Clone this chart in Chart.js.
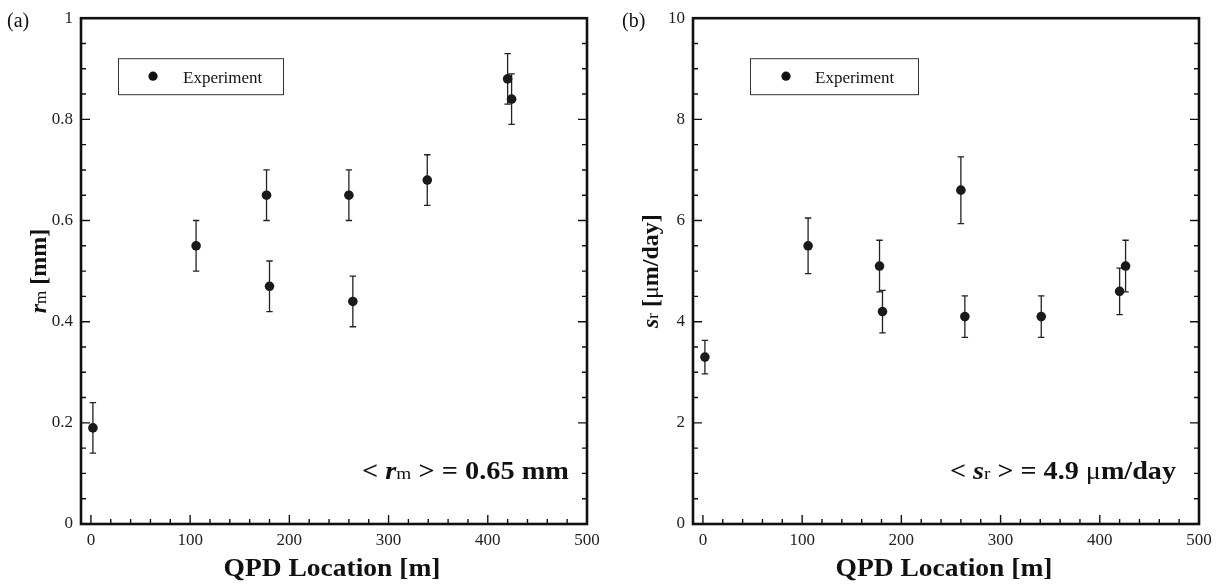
<!DOCTYPE html>
<html>
<head>
<meta charset="utf-8">
<script src="https://cdn.jsdelivr.net/npm/chart.js@4.4.0/dist/chart.umd.min.js"></script>
<style>
  body { margin: 0; background: #fff; width: 1219px; height: 584px; overflow: hidden; position: relative; }
  canvas { position: absolute; top: 0; }
  #ca { left: 0; }
  #cb { left: 612px; }
</style>
</head>
<body>
<canvas id="ca" width="610" height="584"></canvas>
<canvas id="cb" width="607" height="584"></canvas>
<script>
// panel (a): r_m vs QPD location
const locA = [2, 106, 177, 180, 260, 264, 339, 420, 424];
const rm = [0.19, 0.55, 0.65, 0.47, 0.65, 0.44, 0.68, 0.88, 0.84];
const rmErr = [0.05, 0.05, 0.05, 0.05, 0.05, 0.05, 0.05, 0.05, 0.05];

// panel (b): s_r vs QPD location
const locB = [2, 106, 178, 181, 260, 264, 341, 420, 426];
const sr = [3.3, 5.5, 5.1, 4.2, 6.6, 4.1, 4.1, 4.6, 5.1];
const srErr = [0.33, 0.55, 0.51, 0.42, 0.66, 0.41, 0.41, 0.46, 0.51];

const SERIF = "'Liberation Serif', 'Times New Roman', serif";
Chart.defaults.font.family = SERIF;
Chart.defaults.color = '#222';

function isMult(v, step) {
  const q = v / step;
  return Math.abs(q - Math.round(q)) < 1e-6;
}

// draws a row of text pieces with different fonts, optionally stretched to a width
function runs(ctx, parts, x, y, align, fitW) {
  let w = 0;
  parts.forEach(p => { ctx.font = p.f; w += ctx.measureText(p.t).width; });
  const sx = fitW ? fitW / w : 1;
  const W = w * sx;
  const x0 = align === 'right' ? x - W : align === 'center' ? x - W / 2 : x;
  ctx.save();
  ctx.translate(x0, y);
  ctx.scale(sx, 1);
  ctx.textAlign = 'left';
  ctx.textBaseline = 'alphabetic';
  let cx = 0;
  parts.forEach(p => {
    ctx.font = p.f;
    ctx.fillText(p.t, cx, p.dy || 0);
    cx += ctx.measureText(p.t).width;
  });
  ctx.restore();
}

const decor = {
  id: 'decor',
  beforeDatasetsDraw(chart, args, o) {
    const ctx = chart.ctx, xs = chart.scales.x, ys = chart.scales.y;
    ctx.save();
    ctx.strokeStyle = '#222';
    ctx.lineWidth = 1.3;
    o.xs.forEach((xv, i) => {
      const px = xs.getPixelForValue(xv);
      const top = ys.getPixelForValue(o.ys[i] + o.err[i]);
      const bot = ys.getPixelForValue(o.ys[i] - o.err[i]);
      ctx.beginPath();
      ctx.moveTo(px, top); ctx.lineTo(px, bot);
      ctx.moveTo(px - 3.2, top); ctx.lineTo(px + 3.2, top);
      ctx.moveTo(px - 3.2, bot); ctx.lineTo(px + 3.2, bot);
      ctx.stroke();
    });
    ctx.restore();
  },
  afterDraw(chart, args, o) {
    const ctx = chart.ctx, a = chart.chartArea, xs = chart.scales.x, ys = chart.scales.y;
    ctx.save();
    ctx.fillStyle = '#111';
    ctx.strokeStyle = '#111';

    // inward ticks: left, right, bottom
    ctx.lineWidth = 1.4;
    ctx.beginPath();
    ys.ticks.forEach(t => {
      if (!isMult(t.value, o.yMinor)) return;
      const py = ys.getPixelForValue(t.value);
      const len = isMult(t.value, o.yMajor) ? 9 : 5;
      ctx.moveTo(a.left, py); ctx.lineTo(a.left + len, py);
      ctx.moveTo(a.right, py); ctx.lineTo(a.right - len, py);
    });
    xs.ticks.forEach(t => {
      if (!isMult(t.value, 20)) return;
      const px = xs.getPixelForValue(t.value);
      const len = isMult(t.value, 100) ? 9 : 5;
      ctx.moveTo(px, a.bottom); ctx.lineTo(px, a.bottom - len);
    });
    ctx.stroke();

    // frame
    ctx.lineWidth = 2.6;
    ctx.strokeRect(a.left, a.top, a.right - a.left, a.bottom - a.top);

    // legend box
    const L = o.legend;
    ctx.lineWidth = 1;
    ctx.strokeStyle = '#333';
    ctx.strokeRect(a.left + L.x0 + 0.5, a.top + L.y0 + 0.5, L.x1 - L.x0, L.y1 - L.y0);
    ctx.beginPath();
    ctx.arc(a.left + L.dot, a.top + 58, 4.6, 0, Math.PI * 2);
    ctx.fill();
    ctx.font = '17px ' + SERIF;
    ctx.textAlign = 'left';
    ctx.textBaseline = 'alphabetic';
    ctx.fillText(chart.data.datasets[0].label, a.left + L.text, a.top + 65);

    // mean annotation
    runs(ctx, o.note, a.right - o.noteRight, 479, 'right', o.noteW);

    // x title
    runs(ctx, [{ t: 'QPD Location [m]', f: 'bold 25px ' + SERIF }], (a.left + a.right) / 2 - 2, 576, 'center', 217);

    // y title (rotated)
    ctx.save();
    ctx.translate(46, (a.top + a.bottom) / 2);
    ctx.rotate(-Math.PI / 2);
    runs(ctx, o.ytitle, 0, 0, 'center');
    ctx.restore();

    // panel label
    ctx.font = '20px ' + SERIF;
    ctx.textAlign = 'left';
    ctx.fillText(o.panel, o.panelX, 27);
    ctx.restore();
  }
};

function makeChart(id, xs, ys, err, yMax, yMinor, yMajor, extra) {
  return new Chart(document.getElementById(id), {
    type: 'scatter',
    data: {
      datasets: [{
        label: 'Experiment',
        data: xs.map((x, i) => ({ x: x, y: ys[i] })),
        pointRadius: 4.8,
        pointHoverRadius: 4.8,
        pointBackgroundColor: '#1a1a1a',
        pointBorderWidth: 0
      }]
    },
    options: {
      responsive: false,
      animation: false,
      events: [],
      layout: { padding: { top: 17, right: extra.padRight, left: 0, bottom: 0 } },
      scales: {
        x: {
          type: 'linear',
          min: -10,
          max: 500,
          afterFit: s => { s.height = 60; },
          grid: { display: false, drawTicks: false },
          border: { display: false },
          ticks: {
            stepSize: 20,
            includeBounds: false,
            autoSkip: false,
            maxRotation: 0,
            padding: 6,
            font: { size: 17 },
            callback: v => isMult(v, 100) ? String(Math.round(v)) : ''
          }
        },
        y: {
          type: 'linear',
          min: 0,
          max: yMax,
          afterFit: s => { s.width = 81; },
          grid: { display: false, drawTicks: false },
          border: { display: false },
          ticks: {
            stepSize: yMinor,
            autoSkip: false,
            padding: 8,
            font: { size: 17 },
            callback: v => isMult(v, yMajor) ? String(+v.toFixed(2)) : ''
          }
        }
      },
      plugins: {
        legend: { display: false },
        tooltip: { enabled: false },
        decor: Object.assign({ xs: xs, ys: ys, err: err, yMinor: yMinor, yMajor: yMajor }, extra)
      }
    },
    plugins: [decor]
  });
}

const B25 = 'bold 25px ' + SERIF, BI25 = 'bold italic 25px ' + SERIF, R17s = '17px ' + SERIF;
const B24 = 'bold 24px ' + SERIF, BI24 = 'bold italic 24px ' + SERIF, R17 = '17px ' + SERIF;

makeChart('ca', locA, rm, rmErr, 1, 0.05, 0.2, {
  padRight: 23,
  panel: '(a)', panelX: 7,
  legend: { x0: 37, x1: 202, y0: 40, y1: 76, dot: 72, text: 102 },
  noteRight: 18,
  noteW: 207,
  note: [{ t: '< ', f: B25 }, { t: 'r', f: BI25 }, { t: 'm', f: R17s }, { t: ' > = 0.65 mm', f: B25 }],
  ytitle: [{ t: 'r', f: BI24 }, { t: 'm', f: R17 }, { t: ' [mm]', f: B24 }]
});

makeChart('cb', locB, sr, srErr, 10, 0.5, 2, {
  padRight: 20,
  panel: '(b)', panelX: 10,
  legend: { x0: 57, x1: 225, y0: 40, y1: 76, dot: 93, text: 122 },
  noteRight: 23,
  noteW: 226,
  note: [{ t: '< ', f: B25 }, { t: 's', f: BI25 }, { t: 'r', f: R17s }, { t: ' > = 4.9 ', f: B25 }, { t: 'μ', f: '25px ' + SERIF }, { t: 'm/day', f: B25 }],
  ytitle: [{ t: 's', f: BI24 }, { t: 'r', f: R17 }, { t: ' [', f: B24 }, { t: 'μ', f: '24px ' + SERIF }, { t: 'm/day]', f: B24 }]
});
</script>
</body>
</html>
